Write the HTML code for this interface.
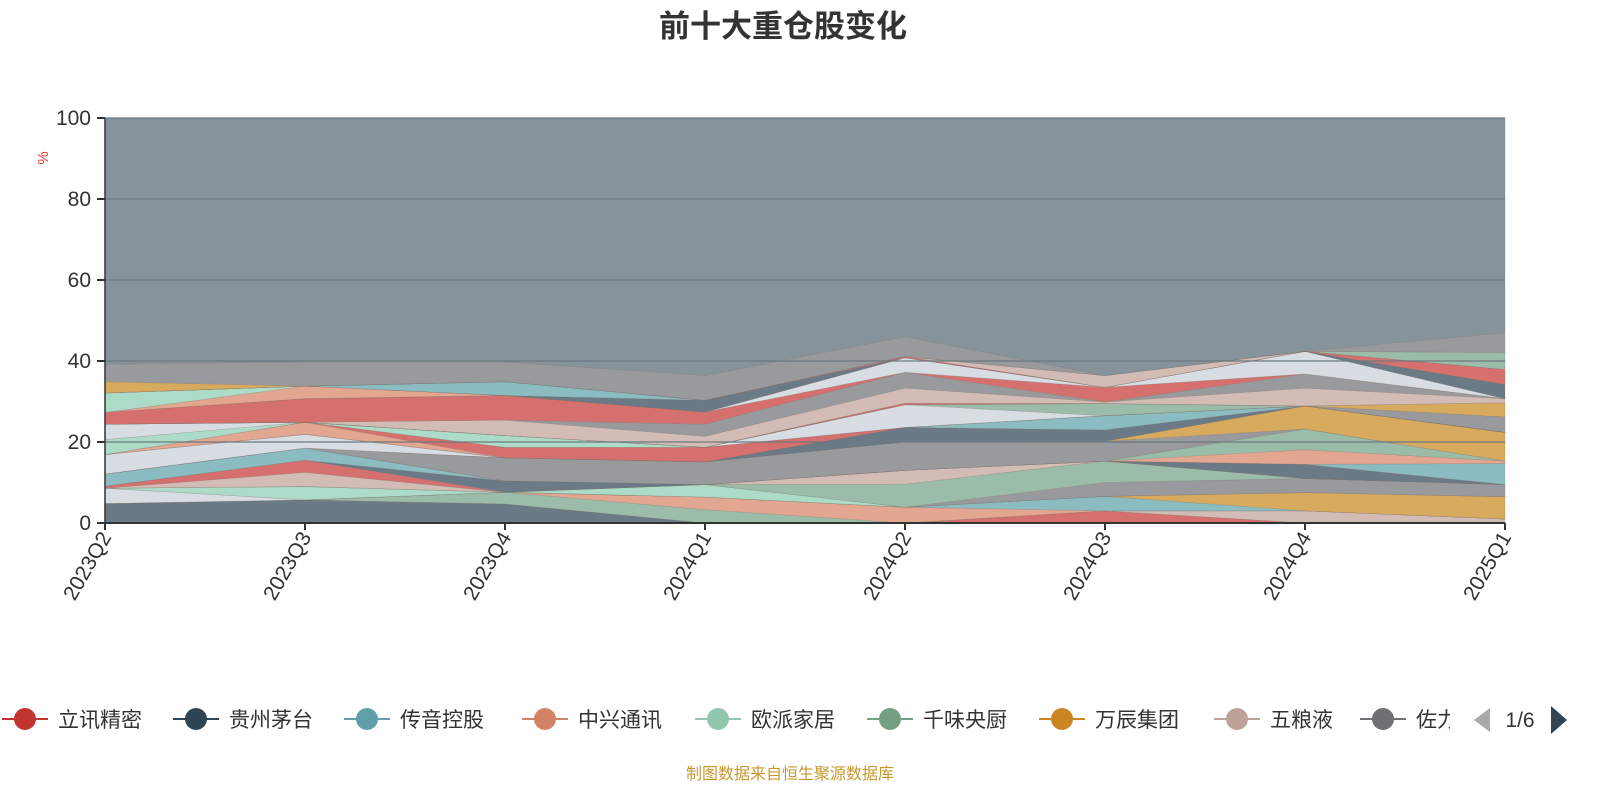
<!DOCTYPE html>
<html><head><meta charset="utf-8"><style>
body{margin:0;background:#fff;font-family:"Liberation Sans","Noto Sans CJK SC",sans-serif;}
svg text{font-family:"Liberation Sans","Noto Sans CJK SC",sans-serif;}
</style></head><body>
<svg id="chart" width="1600" height="800" xmlns="http://www.w3.org/2000/svg">
<text x="783" y="37" text-anchor="middle" font-size="31" font-weight="bold" fill="#333">前十大重仓股变化</text>
<text x="0" y="0" font-size="15" fill="#e33" transform="translate(48,158) rotate(-90)" text-anchor="middle">%</text>
<g id="areas"></g>
<g id="grid"></g>
<g id="axes"></g>
<g id="legend"></g>
<text x="790" y="779" text-anchor="middle" font-size="16" fill="#c8982e">制图数据来自恒生聚源数据库</text>
</svg>
<script>
const categories=["2023Q2","2023Q3","2023Q4","2024Q1","2024Q2","2024Q3","2024Q4","2025Q1"];
const yTicks=[0,20,40,60,80,100];
const s01=[4.8,5.7,4.7,0,0,0,0,0];
const s02=[0,0,0,0,0,3.0,0,0];
const s03=[0,0,0,0,0,0,3.0,1.0];
const s04=[0,0,2.9,3.3,0,0,0,0];
const s05=[0,0,0,3.1,3.9,0,0,0];
const s06=[0,0,0,0,0,3.6,0,0];
const s07=[0,0,0,0,0,0,4.5,5.5];
const s08=[3.8,0,0,0,0,0,0,0];
const s09=[0,3.3,0,3.1,0,0,0,0];
const s10=[0,0,0,0,0,3.4,3.5,3.0];
const s11=[0,0,0,0,5.7,5.3,0,0];
const s12=[0,3.5,0,0,3.4,0,0,0];
const s13=[0.5,3.0,0,0,0,0,0,0];
const s14=[0,0,2.8,0,0,0,3.5,0];
const s15=[3.0,3.0,0,0,0,0,0,5.2];
const s16=[0,0,0,0,0,0,3.6,0.6];
const s17=[0,0,0,0,0,0,5.1,0];
const s18=[0,0,5.7,5.6,7.0,4.9,0,0];
const s19=[0,0,0,0,0,0,5.7,7.1];
const s20=[4.8,3.4,0,0,0,0,0,0];
const s21=[0,0,0,0,3.6,2.8,0,0];
const s22=[0,0,0,0,0,3.5,0,0];
const s23=[0,3.0,0,0,0,0,0,0];
const s24=[0,0,2.6,3.6,0,0,0,0];
const s25=[3.7,0,2.9,0,0,0,0,0];
const s26=[3.8,0,0,0,5.6,0,0,0];
const s27=[0,0,0,0,0,3.0,0,0];
const s28=[0,0,0,0,0,0,0,3.8];
const s29=[0,0,0,0,0,0,0,3.5];
const s30=[0,0,0,0,0.4,0,0,0];
const s31=[0,0,3.8,2.7,3.7,0.4,4.4,1.0];
const s32=[0,0,0,3.0,3.9,0,3.5,0];
const s33=[2.9,5.8,6.1,3.0,0,3.6,0,0];
const s34=[0,0,0,0,3.6,0,5.6,0];
const s35=[0,3.1,0,0,0,0,0,0];
const s36=[4.8,0,0,0,0,0,0,0];
const s37=[0,0,0,2.9,0,0,0,3.5];
const s38=[0,0,3.4,0,0,0,0,0];
const s39=[0,0,0,0,0.3,0,0,3.7];
const s40=[0,0,0,0,0,2.9,0,0];
const s41=[0,0,0,0,0,0,0,4.2];
const s42=[2.8,0,0,0,0,0,0,0];
const s43=[4.3,6.0,4.9,6.1,4.9,0,0,4.9];
const C={dark:"#6b7a87",red:"#d6706e",teal:"#8bbcc2",salmon:"#e3a690",mint:"#acdcc7",sage:"#9bbca8",gold:"#d8aa5e",pink:"#d3bcb6",gray:"#999a9e",white:"#d8dce3",top:"#86939b"};
const series=[[s01,"dark"],[s02,"red"],[s03,"pink"],[s04,"sage"],[s05,"salmon"],[s06,"teal"],[s07,"gold"],[s08,"white"],[s09,"mint"],[s10,"gray"],[s11,"sage"],[s12,"pink"],[s13,"red"],[s14,"dark"],[s15,"teal"],[s16,"salmon"],[s17,"sage"],[s18,"gray"],[s19,"gold"],[s20,"white"],[s21,"dark"],[s22,"teal"],[s23,"salmon"],[s24,"red"],[s25,"mint"],[s26,"white"],[s27,"sage"],[s28,"gray"],[s29,"gold"],[s30,"red"],[s31,"pink"],[s32,"gray"],[s33,"red"],[s34,"white"],[s35,"salmon"],[s36,"mint"],[s37,"dark"],[s38,"teal"],[s39,"red"],[s40,"pink"],[s41,"sage"],[s42,"gold"],[s43,"gray"]];
const NS="http://www.w3.org/2000/svg";
const X0=105,X1=1505,Y0=523,Y1=118;
const xs=i=>X0+i*(X1-X0)/(categories.length-1);
const ys=v=>Y0-(v/100)*(Y0-Y1);
function mk(t,a,p){const e=document.createElementNS(NS,t);for(const k in a)e.setAttribute(k,a[k]);p.appendChild(e);return e;}
const areas=document.getElementById("areas");
let base=categories.map(()=>0);
function drawBand(vals,color,idx){
  const top=base.map((b,i)=>b+vals[i]);
  let d="M"+top.map((v,i)=>xs(i)+","+ys(v)).join("L");
  for(let i=categories.length-1;i>=0;i--)d+="L"+xs(i)+","+ys(base[i]);
  const p=mk("path",{d:d+"Z",fill:color,stroke:"rgba(120,110,100,0.35)","stroke-width":0.6},areas);
  
  
  base=top;
}
series.forEach((s,k)=>drawBand(s[0],C[s[1]],k+1));
drawBand(base.map(b=>100-b),C.top,"top");
const grid=document.getElementById("grid"),axes=document.getElementById("axes");
yTicks.forEach(t=>{
  if(t>0){const g=mk("line",{x1:X0,x2:X1,y1:ys(t),y2:ys(t),stroke:"#6c7880","stroke-width":1.2},grid);
  
  }
  const tk=mk("line",{x1:X0-8,x2:X0,y1:ys(t),y2:ys(t),stroke:"#333","stroke-width":2},axes);
  
  
  const tx=mk("text",{x:X0-14,y:ys(t)+7,"text-anchor":"end","font-size":21,fill:"#333"},axes);
  tx.textContent=t;
  
  
});
const ya=mk("line",{x1:X0,x2:X0,y1:Y1,y2:Y0,stroke:"#333","stroke-width":1.5},axes);


const xa=mk("line",{x1:X0,x2:X1,y1:Y0,y2:Y0,stroke:"#333","stroke-width":2},axes);


categories.forEach((c,i)=>{
  const tk=mk("line",{x1:xs(i),x2:xs(i),y1:Y0,y2:Y0+7,stroke:"#333","stroke-width":2},axes);
  
  
  const tx=mk("text",{x:0,y:0,"text-anchor":"end","font-size":21,fill:"#333",transform:"translate("+(xs(i)+7)+","+(Y0+14)+") rotate(-60)"},axes);
  tx.textContent=c;
  
  
});
const legNames=["立讯精密","贵州茅台","传音控股","中兴通讯","欧派家居","千味央厨","万辰集团","五粮液","佐力药业"];
const legColors=["#c23531","#2f4554","#61a0a8","#d48265","#91c7ae","#749f83","#ca8622","#bda29a","#6e7074"];
const legX=[25,196,367,545,718,890,1062,1237,1383];
const leg=document.getElementById("legend");
const clip=mk("clipPath",{id:"legclip"},leg);
mk("rect",{x:0,y:690,width:1450,height:60},clip);
const lg=mk("g",{"clip-path":"url(#legclip)"},leg);
legNames.forEach((n,i)=>{
  const g=mk("g",{},lg);
  
  
  mk("line",{x1:legX[i]-23,x2:legX[i]+23,y1:719,y2:719,stroke:legColors[i],"stroke-width":2},g);
  mk("circle",{cx:legX[i],cy:719,r:11,fill:legColors[i]},g);
  const t=mk("text",{x:legX[i]+33,y:727,"font-size":21,fill:"#333"},g);
  t.textContent=n;
});
const pl=mk("path",{d:"M1490,708 L1490,732 L1474,720 Z",fill:"#aaa"},leg);


const pt=mk("text",{x:1520,y:727,"text-anchor":"middle","font-size":21,fill:"#333"},leg);
pt.textContent="1/6";


const pr=mk("path",{d:"M1551,706 L1551,734 L1567,720 Z",fill:"#2f4554"},leg);


</script>
</body></html>
